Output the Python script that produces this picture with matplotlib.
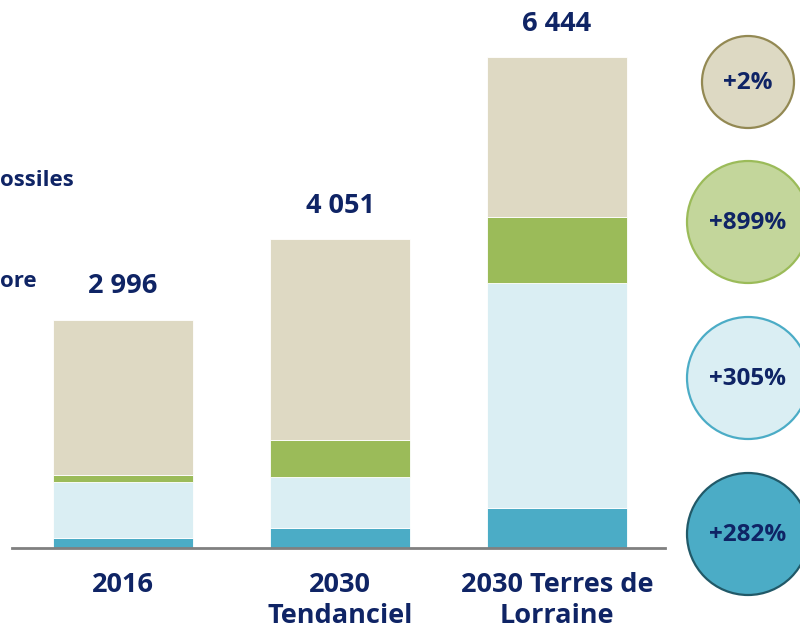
import matplotlib.pyplot as plt
from matplotlib.patches import Circle

plt.rcParams['font.family'] = ['Open Sans', 'DejaVu Sans']

categories = ["2016", "2030\nTendanciel", "2030 Terres de\nLorraine"]
teal = [131, 263, 525]
light_blue = [735, 670, 2954]
green = [87, 486, 867]
beige = [2043, 2632, 2098]
growth_labels = ["+2%", "+899%", "+305%", "+282%"]
side_labels = ["ossiles", "ore"]

NAVY = "#0F2465"
series = [
    (teal, "#4BACC6"),
    (light_blue, "#DAEEF3"),
    (green, "#9BBB59"),
    (beige, "#DED9C3"),
]

W, H = 800, 627
fig = plt.figure(figsize=(W / 100, H / 100), dpi=100)

# main bar axes, baseline at y=548 px
ax = fig.add_axes([12 / W, (H - 548) / H, (665 - 12) / W, 548 / H])
x = list(range(len(categories)))
bottom = [0] * len(categories)
for vals, col in series:
    ax.bar(x, vals, width=0.645, bottom=bottom, color=col,
           edgecolor="white", linewidth=0.6)
    bottom = [b + v for b, v in zip(bottom, vals)]

for xi, tot in zip(x, bottom):
    ax.annotate(f"{tot:,}".replace(",", " "), (xi, tot), xytext=(0, 24),
                textcoords="offset points", ha="center", va="center",
                fontsize=19.5, fontweight="bold", color=NAVY)

ax.set_xlim(-0.5115, 2.498)
ax.set_ylim(0, 7195)
ax.set_xticks(x)
ax.set_xticklabels(categories, fontsize=19.5, fontweight="bold", color=NAVY,
                   linespacing=1.25)
ax.tick_params(axis="x", length=0, pad=17)
ax.set_yticks([])
for s in ["top", "left", "right"]:
    ax.spines[s].set_visible(False)
ax.spines["bottom"].set_color("#808080")
ax.spines["bottom"].set_linewidth(2)
ax.patch.set_alpha(0)

# overlay in pixel coordinates for the growth circles and cut legend text
ov = fig.add_axes([0, 0, 1, 1])
ov.set_xlim(0, W)
ov.set_ylim(H, 0)
ov.axis("off")
ov.patch.set_alpha(0)

circles = [
    (748, 82, 46, "#DDD9C3", "#938953"),
    (748, 222, 61, "#C3D69B", "#9BBB59"),
    (748, 378, 61, "#DAEEF3", "#4BACC6"),
    (748, 534, 61, "#4BACC6", "#215968"),
]
for (cx, cy, r, fc, ec), lab in zip(circles, growth_labels):
    ov.add_patch(Circle((cx, cy), r, facecolor=fc, edgecolor=ec, linewidth=1.6))
    ov.text(cx, cy + 1, lab, ha="center", va="center", fontsize=17.5,
            fontweight="bold", color=NAVY)

ov.text(0, 186, side_labels[0], ha="left", va="baseline", fontsize=16,
        fontweight="bold", color=NAVY)
ov.text(0, 287, side_labels[1], ha="left", va="baseline", fontsize=16,
        fontweight="bold", color=NAVY)

fig.savefig("out.png", dpi=100)
